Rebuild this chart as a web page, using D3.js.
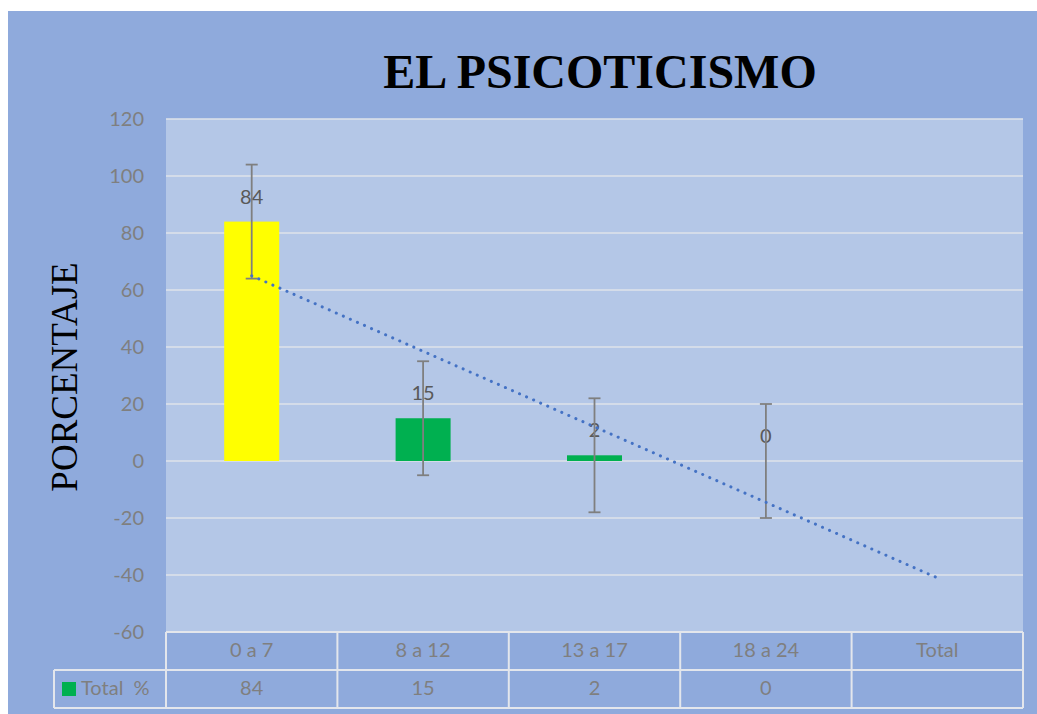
<!DOCTYPE html>
<html>
<head>
<meta charset="utf-8">
<script src="https://cdn.jsdelivr.net/npm/d3@7"></script>
<style>
  body { margin: 0; background: #fff; }
  svg { display: block; }
</style>
</head>
<body>
<div id="chart"></div>
<script>
const categories = ['0 a 7', '8 a 12', '13 a 17', '18 a 24', 'Total'];
const values = [84, 15, 2, 0];
const barColors = ['#ffff00', '#00b050', '#00b050', '#00b050'];
const errorAmount = 20;
const yTicks = [120, 100, 80, 60, 40, 20, 0, -20, -40, -60];
const seriesName = 'Total  %';

const width = 1037;
const height = 714;

const svg = d3.select('#chart')
  .append('svg')
  .attr('width', width)
  .attr('height', height)

// chart background
svg.append('rect')
  .attr('x', 8).attr('y', 11)
  .attr('width', width - 8).attr('height', height - 11)
  .attr('fill', '#8faadc')

const plot = { left: 166, right: 1023, top: 119, bottom: 632 };

const x = d3.scaleBand()
  .domain(categories)
  .range([plot.left, plot.right])
  .paddingInner(0)

const y = d3.scaleLinear()
  .domain([-60, 120])
  .range([plot.bottom, plot.top])

svg.append('rect')
  .attr('x', plot.left).attr('y', plot.top)
  .attr('width', plot.right - plot.left).attr('height', plot.bottom - plot.top)
  .attr('fill', '#b4c7e7')

// gridlines
svg.append('g')
  .selectAll('line')
  .data(yTicks)
  .join('line')
  .attr('x1', plot.left).attr('x2', plot.right)
  .attr('y1', (d) => y(d)).attr('y2', (d) => y(d))
  .attr('stroke', '#dfe3ea')
  .attr('stroke-width', 1.5)

// y axis labels (plain hyphen for negatives, like the original)
const yAxis = svg.append('g')
  .attr('transform', `translate(${plot.left - 22},0)`)
  .call(d3.axisLeft(y).tickValues(yTicks).tickFormat((d) => String(d)).tickSize(0).tickPadding(0))
yAxis.select('.domain').remove()
yAxis.selectAll('text')
  .attr('fill', '#7f7f7f')
  .style('font-family', 'Lato, "Open Sans", sans-serif')
  .style('font-size', '20px')

// bars
const barW = 55;
svg.append('g')
  .selectAll('rect')
  .data(values)
  .join('rect')
  .attr('x', (d, i) => x(categories[i]) + x.bandwidth() / 2 - barW / 2)
  .attr('y', (d) => y(Math.max(d, 0)))
  .attr('width', barW)
  .attr('height', (d) => Math.abs(y(d) - y(0)))
  .attr('fill', (d, i) => barColors[i])

// data labels
svg.append('g')
  .selectAll('text')
  .data(values)
  .join('text')
  .attr('x', (d, i) => x(categories[i]) + x.bandwidth() / 2)
  .attr('y', (d) => y(d) - 23)
  .attr('text-anchor', 'middle')
  .attr('dominant-baseline', 'middle')
  .attr('fill', '#595959')
  .style('font-family', 'Lato, "Open Sans", sans-serif')
  .style('font-size', '20px')
  .text((d) => d)

// error bars
const err = svg.append('g')
  .selectAll('g')
  .data(values)
  .join('g')
  .attr('stroke', '#7f7f7f')
  .attr('stroke-width', 1.8)
err.append('line')
  .attr('x1', (d, i) => x(categories[i]) + x.bandwidth() / 2)
  .attr('x2', (d, i) => x(categories[i]) + x.bandwidth() / 2)
  .attr('y1', (d) => y(d + errorAmount))
  .attr('y2', (d) => y(d - errorAmount))
err.selectAll('.cap')
  .data((d, i) => [{ v: d + errorAmount, i }, { v: d - errorAmount, i }])
  .join('line')
  .attr('class', 'cap')
  .attr('x1', (d) => x(categories[d.i]) + x.bandwidth() / 2 - 6)
  .attr('x2', (d) => x(categories[d.i]) + x.bandwidth() / 2 + 6)
  .attr('y1', (d) => y(d.v))
  .attr('y2', (d) => y(d.v))

// linear trendline (least squares over the bars, extended to last category)
const xs = values.map((d, i) => i + 1);
const mx = d3.mean(xs), my = d3.mean(values);
const slope = d3.sum(xs, (v, i) => (v - mx) * (values[i] - my)) / d3.sum(xs, (v) => (v - mx) ** 2);
const intercept = my - slope * mx;
const trendPts = [1, categories.length].map((k) => [
  x(categories[k - 1]) + x.bandwidth() / 2,
  y(intercept + slope * k)
]);
svg.append('path')
  .attr('d', d3.line()(trendPts))
  .attr('stroke', '#4472c4')
  .attr('stroke-width', 3)
  .attr('stroke-linecap', 'round')
  .attr('stroke-dasharray', '0.1 7.6')
  .attr('fill', 'none')

// data table
const rowH = 38;
const tableTop = plot.bottom;
const legendLeft = 54;
const tbl = svg.append('g')
  .attr('stroke', '#e3e6ec')
  .attr('stroke-width', 2)
  .attr('fill', 'none')
tbl.append('line').attr('x1', plot.left).attr('x2', plot.right).attr('y1', tableTop).attr('y2', tableTop)
tbl.append('line').attr('x1', legendLeft).attr('x2', plot.right).attr('y1', tableTop + rowH).attr('y2', tableTop + rowH)
tbl.append('line').attr('x1', legendLeft).attr('x2', plot.right).attr('y1', tableTop + rowH * 2).attr('y2', tableTop + rowH * 2)
tbl.append('line').attr('x1', legendLeft).attr('x2', legendLeft).attr('y1', tableTop + rowH).attr('y2', tableTop + rowH * 2)
tbl.selectAll('.vl')
  .data(categories.map((c) => x(c)).concat([plot.right]))
  .join('line')
  .attr('class', 'vl')
  .attr('x1', (d) => d).attr('x2', (d) => d)
  .attr('y1', tableTop).attr('y2', tableTop + rowH * 2)

const tableText = svg.append('g')
  .attr('fill', '#7f7f7f')
  .style('font-family', 'Lato, "Open Sans", sans-serif')
  .style('font-size', '20px')
  .attr('text-anchor', 'middle')
  .attr('dominant-baseline', 'middle')
tableText.selectAll('.cat')
  .data(categories)
  .join('text')
  .attr('class', 'cat')
  .attr('x', (d) => x(d) + x.bandwidth() / 2)
  .attr('y', tableTop + rowH / 2 + 1)
  .text((d) => d)
tableText.selectAll('.val')
  .data(values)
  .join('text')
  .attr('class', 'val')
  .attr('x', (d, i) => x(categories[i]) + x.bandwidth() / 2)
  .attr('y', tableTop + rowH * 1.5 + 1)
  .text((d) => d)

svg.append('rect')
  .attr('x', 62).attr('y', tableTop + rowH + 12)
  .attr('width', 14).attr('height', 14)
  .attr('fill', '#00b050')
svg.append('text')
  .attr('x', 81).attr('y', tableTop + rowH * 1.5 + 1)
  .attr('dominant-baseline', 'middle')
  .attr('fill', '#7f7f7f')
  .style('font-family', 'Lato, "Open Sans", sans-serif')
  .style('font-size', '20px')
  .style('white-space', 'pre')
  .attr('xml:space', 'preserve')
  .text(seriesName)

// title
svg.append('text')
  .attr('x', 600).attr('y', 88)
  .attr('text-anchor', 'middle')
  .attr('fill', '#000')
  .style('font-family', '"Liberation Serif", "Times New Roman", serif')
  .style('font-weight', 'bold')
  .style('font-size', '48px')
  .text('EL PSICOTICISMO')

// y axis title
svg.append('text')
  .attr('transform', 'translate(77,377) rotate(-90)')
  .attr('text-anchor', 'middle')
  .attr('fill', '#000')
  .style('font-family', '"Liberation Serif", "Times New Roman", serif')
  .style('font-size', '37px')
  .text('PORCENTAJE')
</script>
</body>
</html>
